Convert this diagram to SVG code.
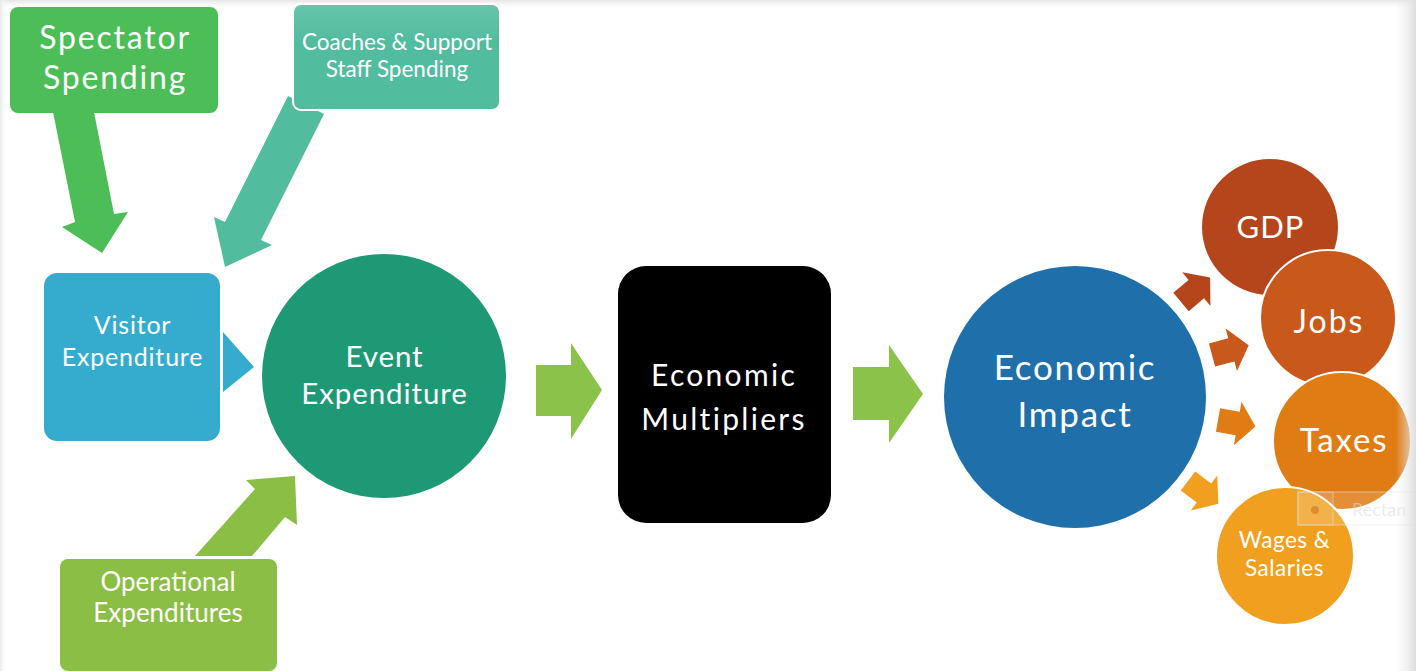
<svg xmlns="http://www.w3.org/2000/svg" width="1416" height="671" viewBox="0 0 1416 671">
<defs>
<style>
text{font-family:"Lato","Open Sans","DejaVu Sans",sans-serif;fill:#ffffff;text-anchor:middle}
.wo{stroke:#ffffff;stroke-width:2}
</style>
<linearGradient id="topg" x1="0" y1="0" x2="0" y2="1"><stop offset="0" stop-color="#e6e6e6"/><stop offset="1" stop-color="#ffffff" stop-opacity="0"/></linearGradient>
<linearGradient id="rightg" x1="0" y1="0" x2="1" y2="0"><stop offset="0" stop-color="#ededed" stop-opacity="0"/><stop offset="1" stop-color="#dcdcdc" stop-opacity="0.95"/></linearGradient>
<linearGradient id="leftg" x1="0" y1="0" x2="1" y2="0"><stop offset="0" stop-color="#e8e8e8"/><stop offset="1" stop-color="#ffffff" stop-opacity="0"/></linearGradient>
<linearGradient id="coachg" x1="0" y1="0" x2="0" y2="1"><stop offset="0" stop-color="#68c5ab"/><stop offset="0.35" stop-color="#52bc9f"/><stop offset="1" stop-color="#52bc9f"/></linearGradient>
<path id="sa" d="M0,-12 L20,-12 L20,-22 L38,0 L20,22 L20,12 L0,12 Z"/>
</defs>
<rect x="0" y="0" width="1416" height="671" fill="#ffffff"/>
<rect x="0" y="0" width="1416" height="10" fill="url(#topg)"/>
<rect x="0" y="0" width="7" height="671" fill="url(#leftg)"/>

<g id="connectors">
<polygon fill="#4cbd57" points="53,112 94,112 114,214 128,212 102,253 62,227 75,222"/>
<polygon fill="#52bc9f" points="288,96 324,114 261,240 272,245 225,267 214,217 225,222"/>
<polygon fill="#35acce" points="223,332 254,367 223,392"/>
<polygon fill="#8bbe44" points="195,556 255,489 246,480 295,476 297,525 285,517 252,556"/>
<polygon fill="#8bc34a" points="536,365 571,365 571,343 602,390 571,439 571,416 536,416"/>
<polygon fill="#8bc34a" points="853,367 889,367 889,345 923,394 889,443 889,420 853,420"/>
<use href="#sa" fill="#b5451b" transform="translate(1181,302) rotate(-40)"/>
<use href="#sa" fill="#c8591a" transform="translate(1212,355) rotate(-15)"/>
<use href="#sa" fill="#e07c14" transform="translate(1218,420) rotate(10)"/>
<use href="#sa" fill="#f0a01e" transform="translate(1188,481) rotate(37)"/>
</g>

<g id="spectator">
<rect x="10" y="7" width="208" height="106" rx="8" fill="#4cbd57"/>
<text x="115" y="49" font-size="32" letter-spacing="1.8">Spectator</text>
<text x="115" y="89" font-size="32" letter-spacing="1.8">Spending</text>
</g>
<g id="coaches">
<rect x="293" y="4" width="207" height="106" rx="8" fill="url(#coachg)" class="wo"/>
<text x="397" y="50" font-size="22.5">Coaches &amp; Support</text>
<text x="397" y="77" font-size="22.5">Staff Spending</text>
</g>
<g id="visitor">
<rect x="44" y="273" width="176" height="168" rx="13" fill="#35acce"/>
<text x="132.5" y="334" font-size="25" letter-spacing="0.8">Visitor</text>
<text x="132.5" y="366" font-size="25" letter-spacing="0.8">Expenditure</text>
</g>
<g id="event">
<circle cx="384" cy="376" r="122" fill="#1d9975"/>
<text x="384.5" y="367" font-size="29.5" letter-spacing="0.9">Event</text>
<text x="384.5" y="404" font-size="29.5" letter-spacing="0.9">Expenditure</text>
</g>
<g id="operational">
<rect x="60" y="559" width="217" height="112" rx="8" fill="#8bbe44"/>
<text x="168" y="591" font-size="26">Operational</text>
<text x="168" y="622" font-size="26">Expenditures</text>
</g>
<g id="multipliers">
<rect x="618" y="266" width="213" height="257" rx="28" fill="#000000"/>
<text x="724" y="386" font-size="30" letter-spacing="2.3">Economic</text>
<text x="724" y="430" font-size="30" letter-spacing="2.3">Multipliers</text>
</g>
<g id="impact">
<circle cx="1075" cy="397" r="131" fill="#1f6fab"/>
<text x="1075" y="380" font-size="35" letter-spacing="1.7">Economic</text>
<text x="1075" y="427" font-size="35" letter-spacing="1.7">Impact</text>
</g>
<g id="gdp">
<circle cx="1270" cy="227" r="68" fill="#b5451b"/>
<text x="1270.5" y="238" font-size="31" letter-spacing="1">GDP</text>
</g>
<g id="jobs">
<circle cx="1328" cy="318" r="68" fill="#c8591a" class="wo"/>
<text x="1329" y="333" font-size="32" letter-spacing="2">Jobs</text>
</g>
<g id="taxes">
<circle cx="1342" cy="441" r="69" fill="#e07c14" class="wo"/>
<text x="1344" y="452" font-size="33" letter-spacing="1.8">Taxes</text>
</g>
<g id="wages">
<circle cx="1285" cy="556" r="69" fill="#f0a01e" class="wo"/>
<text x="1284.5" y="548" font-size="22.5" letter-spacing="0.5">Wages &amp;</text>
<text x="1284.5" y="576" font-size="22.5" letter-spacing="0.5">Salaries</text>
</g>

<g id="tooltip" opacity="0.6">
<rect x="1298" y="492" width="130" height="33" fill="#ffffff" fill-opacity="0.25" stroke="#e6e6e6" stroke-width="1"/>
<rect x="1298" y="492" width="35" height="33" fill="#ffffff" fill-opacity="0.1" stroke="#e6e6e6" stroke-width="1"/>
<circle cx="1315" cy="510" r="4" fill="#d0803a"/>
<text x="1352" y="516" font-size="18" style="fill:#e0e0e0;text-anchor:start">Rectan</text>
</g>
<rect x="1396" y="0" width="20" height="671" fill="url(#rightg)"/>
</svg>
